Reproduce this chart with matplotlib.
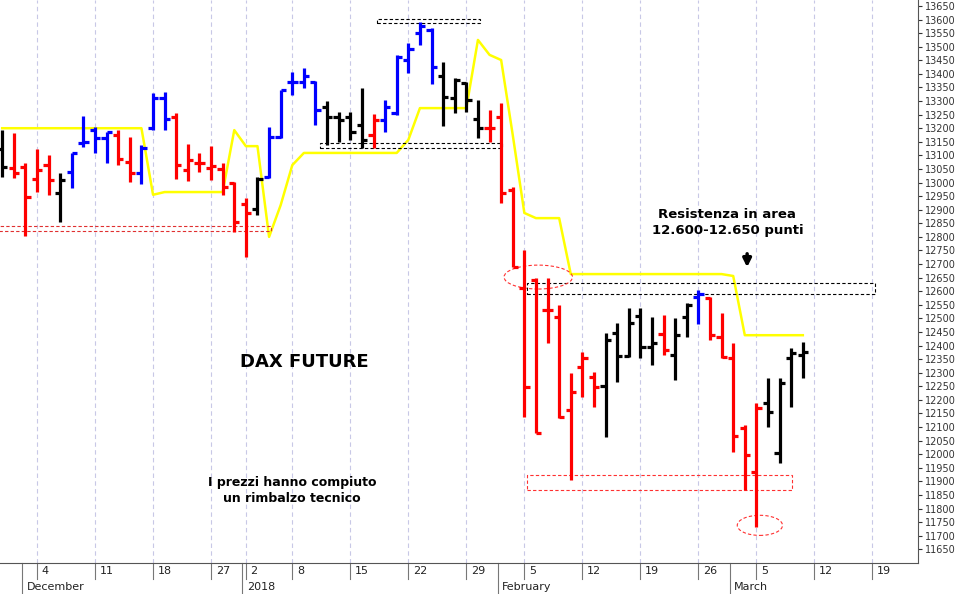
import numpy as np
import matplotlib.pyplot as plt
from matplotlib.patches import Rectangle, Ellipse
from matplotlib.transforms import blended_transform_factory

# trading-day index: 0 = 4 Dec 2017
idx = list(range(-3, 67))
opens = [13123, 13053, 13057, 13013, 13064, 12961, 13038, 13145, 13193, 13164,
         13175, 13075, 13035, 13201, 13310, 13241, 13046, 13072, 13053, 13050,
         12998, 12921, 12902, 13020, 13167, 13370, 13370, 13370, 13278, 13241,
         13241, 13212, 13175, 13230, 13256, 13451, 13550, 13562, 13392, 13311,
         13366, 13234, 13201, 13241, 12972, 12611, 12641, 12530, 12505, 12162,
         12320, 12283, 12250, 12446, 12361, 12508, 12394, 12442, 12365, 12505,
         12578, 12574, 12431, 12354, 12096, 11934, 12188, 12004, 12354, 12365]
highs = [13193, 13182, 13072, 13123, 13101, 13035, 13109, 13245, 13204, 13186,
         13193, 13167, 13138, 13329, 13333, 13256, 13142, 13109, 13134, 13072,
         13002, 12943, 13020, 13204, 13340, 13407, 13422, 13374, 13300, 13259,
         13259, 13348, 13252, 13304, 13469, 13514, 13591, 13569, 13444, 13385,
         13370, 13304, 13267, 13293, 12983, 12751, 12648, 12648, 12549, 12298,
         12376, 12302, 12446, 12482, 12538, 12538, 12505, 12512, 12501, 12556,
         12604, 12578, 12519, 12409, 12107, 12188, 12280, 12280, 12390, 12412]
lows = [13020, 13016, 12803, 12965, 12954, 12854, 12980, 13131, 13109, 13072,
        13064, 13002, 12994, 13193, 13193, 13013, 13005, 13038, 13009, 12954,
        12818, 12725, 12880, 13016, 13164, 13322, 13348, 13212, 13138, 13149,
        13156, 13127, 13127, 13186, 13248, 13403, 13506, 13363, 13208, 13256,
        13260, 13164, 13149, 12924, 12689, 12136, 12077, 12409, 12133, 11904,
        12210, 12173, 12063, 12265, 12357, 12354, 12328, 12365, 12272, 12431,
        12479, 12420, 12354, 12007, 11867, 11731, 12099, 11967, 12173, 12280]
closes = [13057, 13035, 12946, 13046, 13009, 13009, 13109, 13149, 13164, 13186,
          13086, 13035, 13127, 13310, 13234, 13064, 13083, 13072, 13061, 12983,
          12854, 12887, 13013, 13167, 13340, 13370, 13392, 13267, 13241, 13230,
          13186, 13156, 13230, 13278, 13462, 13492, 13576, 13425, 13315, 13377,
          13304, 13201, 13201, 12961, 12689, 12247, 12077, 12530, 12136, 12228,
          12354, 12247, 12420, 12361, 12482, 12394, 12409, 12383, 12438, 12549,
          12589, 12438, 12357, 12066, 11996, 12169, 12155, 12261, 12372, 12376]
colors = list("krrrrkbbbbrrbbbrrrrrrrkbbbbbkkkkrbbbbbkkkkrrrrrrrrrrkkkkkrkkbrrrrrkkkk")
trail = ([13200] * 13 + [12955] + [12965] * 6 + [13193, 13134, 13134, 12800, 12917, 13064]
         + [13109] * 9 + [13157] + [13274] * 5 + [13525, 13470, 13451, 13175, 12888]
         + [12869] * 3 + [12663] * 14 + [12656] + [12438] * 6)

week_ticks = [0, 5, 10, 15, 18, 22, 27, 32, 37, 42, 47, 52, 57, 62, 67, 72]
week_labels = ["4", "11", "18", "27", "2", "8", "15", "22", "29", "5", "12", "19", "26", "5", "12", "19"]
month_pos = [-1, 18, 40, 60]
month_labels = ["December", "2018", "February", "March"]

cmap = {"k": "black", "r": "#ff0000", "b": "#0000ff"}

fig = plt.figure(figsize=(9.66, 5.94), dpi=100)
ax = fig.add_axes([0, 0.052, 0.950, 0.948])
ax.set_xlim(-3.19, 75.9)
ax.set_ylim(11599, 13672)

for t in week_ticks:
    ax.axvline(t, color="#c8c8e6", lw=0.8, ls=(0, (4, 3)), zorder=0)

ax.plot(idx, trail, color="#ffff00", lw=1.8, zorder=1)

for i, o, h, l, c, col in zip(idx, opens, highs, lows, closes, colors):
    cc = cmap[col]
    ax.plot([i, i], [l, h], color=cc, lw=2.3, solid_capstyle="butt", zorder=3)
    ax.plot([i - 0.45, i], [o, o], color=cc, lw=2.3, solid_capstyle="butt", zorder=3)
    ax.plot([i, i + 0.45], [c, c], color=cc, lw=2.3, solid_capstyle="butt", zorder=3)

# support / resistance boxes
def box(x0, x1, y0, y1, col):
    ax.add_patch(Rectangle((x0, y0), x1 - x0, y1 - y0, fill=False, ec=col,
                           lw=0.8, ls=(0, (3, 2)), zorder=2))

box(29.3, 38.2, 13587, 13602, "black")
box(24.4, 40.1, 13127, 13145, "black")
box(-3.3, 20.2, 12821, 12840, "#e03030")
box(42.2, 72.2, 12588, 12630, "black")
box(42.2, 65.1, 11867, 11923, "#ff3030")
ax.add_patch(Ellipse((43.2, 12652), 5.9, 88, fill=False, ec="#ff3030", lw=0.8, ls=(0, (3, 2)), zorder=2))
ax.add_patch(Ellipse((62.3, 11738), 3.9, 74, fill=False, ec="#ff3030", lw=0.8, ls=(0, (3, 2)), zorder=2))

ax.text(59.5, 12854, "Resistenza in area\n12.600-12.650 punti", ha="center", va="center",
        fontsize=9.5, fontweight="bold", linespacing=1.3)
ax.annotate("", xy=(61.2, 12678), xytext=(61.2, 12748),
            arrowprops=dict(arrowstyle="-|>", color="black", lw=2.5, mutation_scale=12))
ax.text(23.0, 12339, "DAX FUTURE", ha="center", va="center", fontsize=13, fontweight="bold")
ax.text(22.0, 11867, "I prezzi hanno compiuto\nun rimbalzo tecnico", ha="center", va="center",
        fontsize=9, fontweight="bold", linespacing=1.3)

# axes styling
for s in ["top", "left"]:
    ax.spines[s].set_visible(False)
ax.spines["right"].set_color("#555555")
ax.spines["bottom"].set_color("#555555")
ax.yaxis.tick_right()
ax.set_yticks(np.arange(11650, 13651, 50))
ax.set_yticklabels([str(v) for v in range(11650, 13651, 50)], fontsize=7)
ax.tick_params(axis="y", length=3, pad=2, colors="#333333")
ax.set_xticks([])

tr = blended_transform_factory(ax.transData, fig.transFigure)
for t, lab in zip(week_ticks, week_labels):
    ax.plot([t, t], [0.052, 0.025], color="#777777", lw=0.8, transform=tr, clip_on=False)
    ax.text(t + 0.4, 0.038, lab, fontsize=8, va="center", ha="left", transform=tr, color="#222222")
for m, lab in zip(month_pos, month_labels):
    ax.plot([m - 0.3, m - 0.3], [0.052, 0.0], color="#777777", lw=0.8, transform=tr, clip_on=False)
    ax.text(m + 0.1, 0.011, lab, fontsize=8, va="center", ha="left", transform=tr, color="#222222")

fig.savefig("out.png", dpi=100)
